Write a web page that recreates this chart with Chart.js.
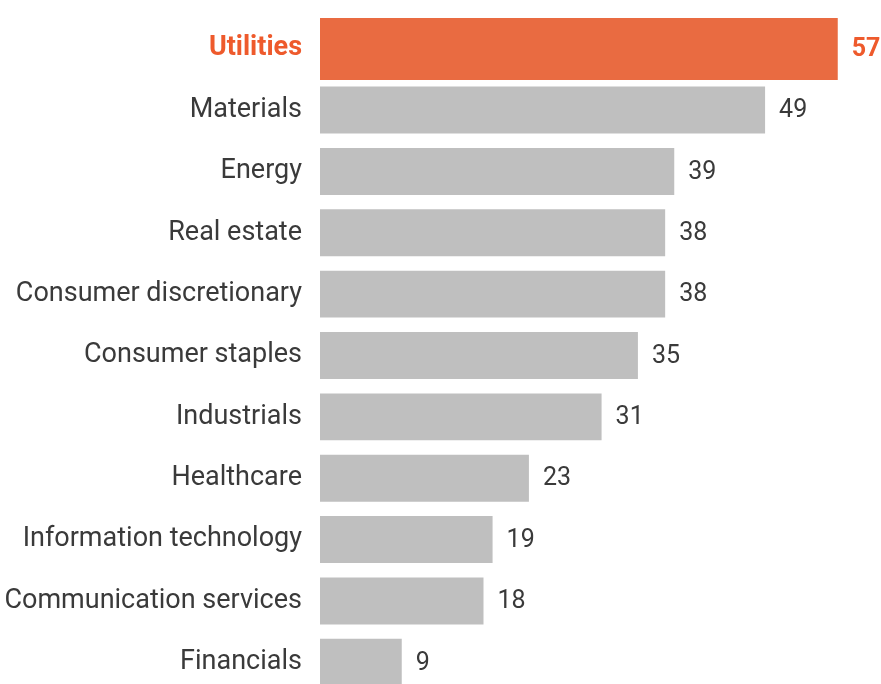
<!DOCTYPE html>
<html>
<head>
<meta charset="utf-8">
<script src="https://cdn.jsdelivr.net/npm/chart.js@4/dist/chart.umd.min.js"></script>
<style>
  html, body { margin: 0; padding: 0; background: #ffffff; overflow: hidden; }
  #wrap { width: 881px; height: 700px; position: relative; }
</style>
</head>
<body>
<div id="wrap"><canvas id="chart"></canvas></div>
<script>
// Sector scores, sorted from highest to lowest
const categories = [
  "Utilities", "Materials", "Energy", "Real estate", "Consumer discretionary",
  "Consumer staples", "Industrials", "Healthcare", "Information technology",
  "Communication services", "Financials"
];
const values = [57, 49, 39, 38, 38, 35, 31, 23, 19, 18, 9];
const highlighted = "Utilities";

const ORANGE = "#E96B41";
const ORANGE_TEXT = "#EE5A2C";
const GREY = "#BFBFBF";
const TEXT = "#3A3A3A";
const FONT = "Roboto, 'Liberation Sans', sans-serif";

const isHi = (i) => categories[i] === highlighted;

// Value labels written just past the end of each bar
const valueLabels = {
  id: "valueLabels",
  afterDatasetsDraw(chart) {
    const ctx = chart.ctx;
    ctx.save();
    ctx.textBaseline = "middle";
    ctx.textAlign = "left";
    chart.data.datasets.forEach((ds, di) => {
      const meta = chart.getDatasetMeta(di);
      meta.data.forEach((bar, i) => {
        const v = ds.data[i];
        if (v === null || v === undefined) return;
        const hi = isHi(i);
        ctx.fillStyle = hi ? ORANGE_TEXT : TEXT;
        ctx.font = (hi ? "bold " : "") + "25px " + FONT;
        ctx.fillText(String(v), bar.x + 14, bar.y + 1);
      });
    });
    ctx.restore();
  }
};

new Chart(document.getElementById("chart"), {
  type: "bar",
  data: {
    labels: categories,
    datasets: [
      {
        data: values.map((v, i) => (isHi(i) ? null : v)),
        backgroundColor: GREY,
        barPercentage: 0.765,
        categoryPercentage: 1,
        grouped: false
      },
      {
        data: values.map((v, i) => (isHi(i) ? v : null)),
        backgroundColor: ORANGE,
        barPercentage: 1.02,
        categoryPercentage: 1,
        grouped: false
      }
    ]
  },
  options: {
    indexAxis: "y",
    responsive: true,
    maintainAspectRatio: false,
    animation: false,
    layout: { padding: { top: 18, right: 16, bottom: 7, left: 0 } },
    plugins: {
      legend: { display: false },
      tooltip: { enabled: false }
    },
    scales: {
      x: {
        display: false,
        min: 0,
        max: 60
      },
      y: {
        grid: { display: false, drawTicks: false },
        border: { display: false },
        afterFit: (scale) => {
          scale.width = 320;
          scale.paddingTop = 0;
          scale.paddingBottom = 0;
        },
        ticks: {
          padding: 18,
          color: (c) => (isHi(c.index) ? ORANGE_TEXT : TEXT),
          font: (c) => ({
            family: FONT,
            size: 27,
            weight: isHi(c.index) ? "bold" : "normal"
          })
        }
      }
    }
  },
  plugins: [valueLabels]
});
</script>
</body>
</html>
